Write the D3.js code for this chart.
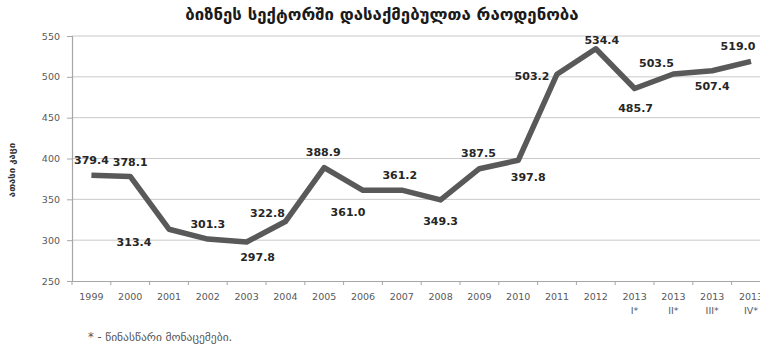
<!DOCTYPE html>
<html><head><meta charset="utf-8">
<script src="https://cdn.jsdelivr.net/npm/d3@7"></script>
<style>body{margin:0;background:#fff}svg{display:block}</style>
</head><body>
<svg id="c" width="760" height="351"></svg>
<script>
const categories = ["1999","2000","2001","2002","2003","2004","2005","2006","2007","2008","2009","2010","2011","2012","2013 I*","2013 II*","2013 III*","2013 IV*"];
const values = [379.4,378.1,313.4,301.3,297.8,322.8,388.9,361.0,361.2,349.3,387.5,397.8,503.2,534.4,485.7,503.5,507.4,519.0];
const yTicks = [250,300,350,400,450,500,550];
const title = "ბიზნეს სექტორში დასაქმებულთა  რაოდენობა";
const yLabel = "ათასი კაცი";
const footnote = "* - წინასწარი მონაცემები.";
// label placement offsets (layout only)
const labelOffsets = [[0,-15],[0,-14],[-35,13],[0,-15],[11,15],[-18,-8],[-1,-15],[-15,22],[-2,-15],[0,21],[-1,-16],[10,17],[-25,2],[6,-9],[1,20],[-17,-11],[0,15],[-13,-15]];

(function(){
const svg = d3.select("#c");
const mLeft = 72, mTop = 36, mBottom = 281, bw = 38.8;
const x = d3.scaleBand().domain(categories).range([mLeft, mLeft + bw*categories.length]).padding(0);
const y = d3.scaleLinear().domain([250,550]).range([mBottom, mTop]);
const font = "'DejaVu Sans', sans-serif";

// gridlines
svg.append("g").selectAll("line").data(yTicks.filter(d=>d>250)).join("line")
  .attr("x1", mLeft).attr("x2", 760).attr("y1", d=>y(d)).attr("y2", d=>y(d))
  .attr("stroke", "#c9c9c9").attr("stroke-width", 1);

// y axis
const ya = svg.append("g").attr("transform", `translate(${mLeft},0)`)
  .call(d3.axisLeft(y).tickValues(yTicks).tickSize(5).tickPadding(7).tickFormat(d3.format("d")));
ya.select(".domain").attr("stroke", "#a6a6a6").attr("stroke-width", 1.2);
ya.selectAll(".tick line").attr("stroke", "#a6a6a6");
ya.selectAll("text").attr("fill", "#595959").style("font-family", font).style("font-size", "9.5px");

// x axis
const xa = svg.append("g").attr("transform", `translate(0,${mBottom})`)
  .call(d3.axisBottom(x).tickSize(0).tickFormat(""));
xa.select(".domain").attr("stroke", "#a6a6a6").attr("stroke-width", 1.2);
xa.selectAll(".tick").remove();
svg.append("g").selectAll("line").data(d3.range(categories.length+1)).join("line")
  .attr("x1", i=>mLeft + i*bw).attr("x2", i=>mLeft + i*bw)
  .attr("y1", mBottom).attr("y2", mBottom+4).attr("stroke", "#a6a6a6");

const xl = svg.append("g").selectAll("text").data(categories).join("text")
  .attr("y", mBottom+19)
  .attr("text-anchor", "middle").attr("fill", "#595959")
  .style("font-family", font).style("font-size", "9.5px");
xl.each(function(d){
  const parts = d.split(" ");
  const t = d3.select(this);
  const cx = x(d)+x.bandwidth()/2;
  t.append("tspan").attr("x", cx).text(parts[0]);
  if (parts[1]) t.append("tspan").attr("x", cx).attr("dy", 14).text(parts[1]);
});

// line
const line = d3.line().x((d,i)=>x(categories[i])+x.bandwidth()/2).y(d=>y(d));
svg.append("path").datum(values).attr("d", line)
  .attr("fill", "none").attr("stroke", "#595959").attr("stroke-width", 5.5)
  .attr("stroke-linejoin", "round");

// data labels
svg.append("g").selectAll("text").data(values).join("text")
  .attr("x", (d,i)=>x(categories[i])+x.bandwidth()/2 + labelOffsets[i][0])
  .attr("y", (d,i)=>y(d) + labelOffsets[i][1])
  .attr("dy", "0.35em").attr("text-anchor", "middle")
  .attr("fill", "#262626").style("font-family", font).style("font-size", "11px").style("font-weight", "bold")
  .text(d=>d.toFixed(1));

// title
svg.append("text").attr("x", 382).attr("y", 20).attr("text-anchor", "middle")
  .attr("fill", "#1a1a1a").style("font-family", font).style("font-size", "16.8px").style("font-weight", "bold")
  .text(title);

// y label
svg.append("text").attr("transform", "translate(15,170) rotate(-90)").attr("text-anchor", "middle")
  .attr("fill", "#333").style("font-family", font).style("font-size", "9.5px").style("font-weight", "bold")
  .text(yLabel);

// footnote
svg.append("text").attr("x", 88).attr("y", 341)
  .attr("fill", "#555").style("font-family", font).style("font-size", "11.5px")
  .text(footnote);
})();
</script>
</body></html>
